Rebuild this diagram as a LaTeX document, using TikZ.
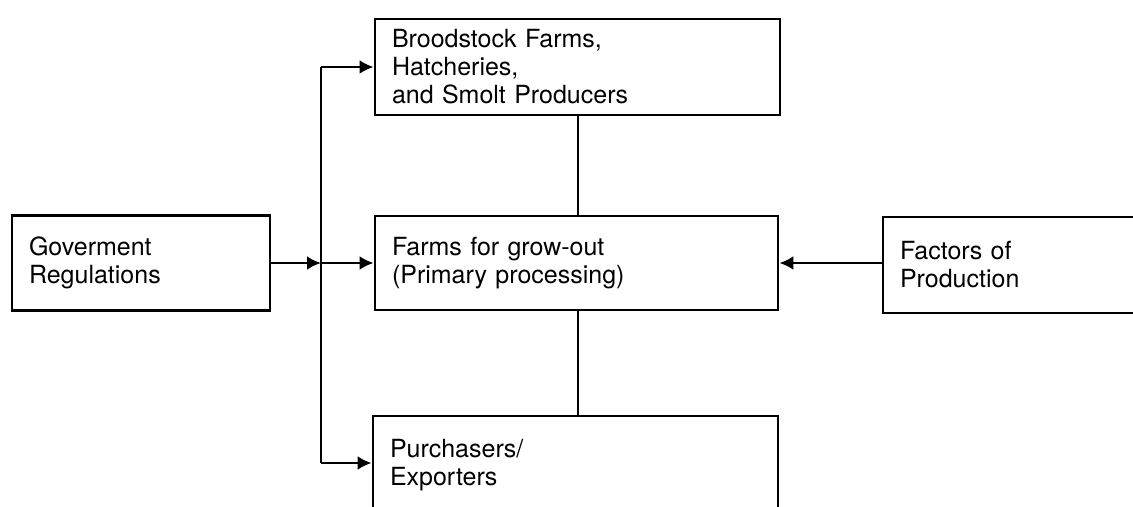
\documentclass[tikz,border=0pt]{standalone}
\usepackage{fontspec}
\setmainfont{TeX Gyre Heros}
\usetikzlibrary{arrows.meta}
\tikzset{
  box/.style={draw, line width=1.4pt, rectangle, inner xsep=8.5pt, inner ysep=0pt,
              align=left, font=\fontsize{12.5}{14}\selectfont, anchor=center},
  conn/.style={line width=1.4pt},
  arr/.style={conn, -{Latex[length=7pt,width=7pt]}}
}
\begin{document}
\begin{tikzpicture}[x=0.5pt,y=-0.5pt]
\fill[white] (0,0) rectangle (1133,507);
\useasboundingbox (0,0) rectangle (1133,507);
\clip (0,0) rectangle (1133,507);
% boxes
\node[box, minimum width=202.5pt, minimum height=48pt, text width=185.5pt] (tb) at (577.5,67)
  {Broodstock Farms,\\Hatcheries,\\and Smolt Producers};
\node[box, minimum width=201.5pt, minimum height=47pt, text width=184.5pt] (mb) at (576.5,263)
  {Farms for grow-out\\(Primary processing)};
\node[box, minimum width=202.5pt, minimum height=49pt, text width=185.5pt] (bb) at (575.5,465)
  {Purchasers/\\Exporters};
\node[box, minimum width=129pt, minimum height=47.5pt, text width=112pt] (lb) at (141,263)
  {Goverment\\Regulations};
\node[box, minimum width=148.5pt, minimum height=48pt, text width=131.5pt] (rb) at (1031.5,265)
  {Factors of\\Production};
% spine
\coordinate (sptop) at (321,67);
\coordinate (spbot) at (321,463);
\coordinate (jn) at (321,263);
\draw[conn] (sptop) -- (spbot);
\draw[arr] (sptop) -- (tb.west);
\draw[arr] (spbot) -- (bb.west |- spbot);
\draw[arr] (lb.east) -- (jn);
\draw[arr] (jn) -- (mb.west);
\draw[arr] (rb.west |- mb.east) -- (mb.east);
\draw[conn] (tb.south -| 578,0) -- (mb.north -| 578,0);
\draw[conn] (mb.south -| 578,0) -- (bb.north -| 578,0);
\end{tikzpicture}
\end{document}
